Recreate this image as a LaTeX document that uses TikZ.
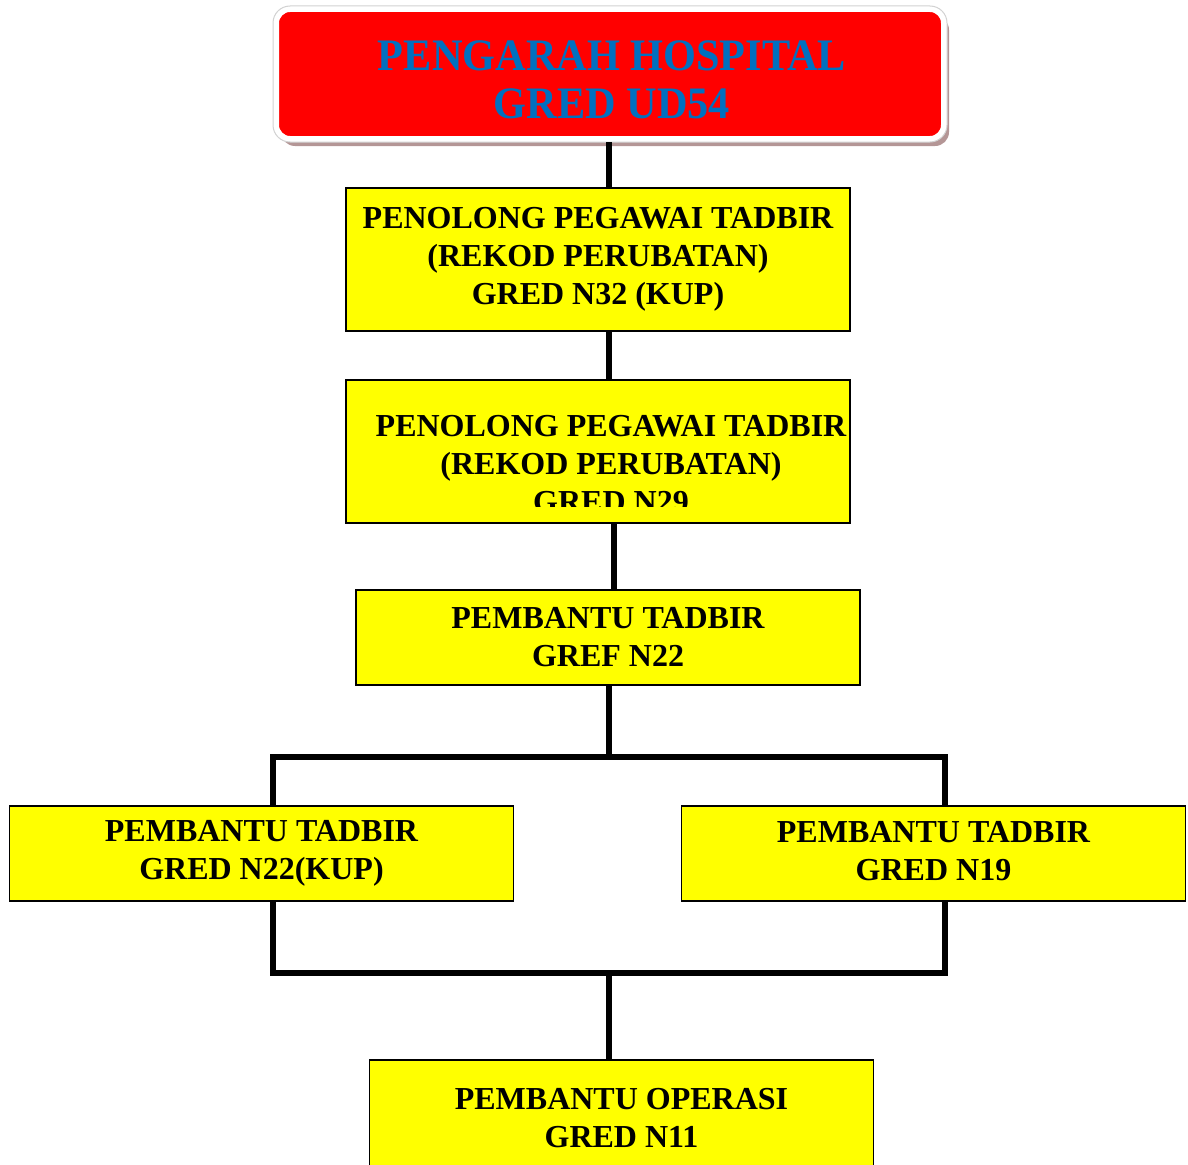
\documentclass[tikz,border=0pt]{standalone}
\usepackage{fontspec}
\setmainfont{Liberation Serif}
\newfontfamily\headfont[FakeStretch=0.94]{Liberation Serif}
\usetikzlibrary{shadows, calc}
\definecolor{orgRed}{RGB}{255, 0, 0}
\definecolor{orgBlue}{RGB}{0, 112, 192}
\definecolor{orgYellow}{RGB}{255, 255, 0}
\definecolor{orgShadow}{RGB}{180, 150, 150}
\tikzset{
  postbox/.style={fill=orgYellow, draw=black, line width=1.5pt, inner sep=0pt, minimum width=504pt, align=center, font=\bfseries\fontsize{32}{38}\selectfont},
  posttext/.style={align=center, inner sep=0pt, font=\bfseries\fontsize{32}{38}\selectfont},
  link/.style={line width=6pt, black}
}

\begin{document}
\begin{tikzpicture}[x=1pt, y=-1pt]
      \useasboundingbox (0,0) rectangle (1188,1164);
      \coordinate (spine) at (609,0);
      \coordinate (spineB) at (614,0);
      \coordinate (splitL) at (273,757);
      \coordinate (joinR) at (945,973);

      \node[fill=orgRed, draw=white, line width=6pt, rounded corners=14pt, minimum width=668pt, minimum height=130pt, drop shadow={shadow xshift=5pt, shadow yshift=-7pt, fill=orgShadow, opacity=1}] (head) at (610,74) {};
      \draw[gray!35, line width=1pt, rounded corners=17pt] (head.north west) rectangle (head.south east);
      \node[text=orgBlue, align=center, inner sep=0pt, font=\headfont\bfseries\fontsize{45}{48}\selectfont] (headtext) at (612,80) {PENGARAH HOSPITAL\\GRED UD54};

      \node[postbox, minimum height=143pt] (tadbirA) at (598,259.5) {PENOLONG PEGAWAI TADBIR\\(REKOD PERUBATAN)\\GRED N32 (KUP)};
      \node[postbox, minimum height=143pt] (tadbirB) at (598,451.5) {};
      \begin{scope}
        \clip (tadbirB.north west) rectangle ($(tadbirB.south east)+(0,-17)$);
        \node[posttext] (tadbirBtext) at (611,464) {PENOLONG PEGAWAI TADBIR\\(REKOD PERUBATAN)\\GRED N29};
      \end{scope}
      \node[postbox, minimum height=95pt] (tadbirC) at (608,637.5) {PEMBANTU TADBIR\\GREF N22};

      \draw[link] (splitL) rectangle (joinR);

      \node[postbox, minimum height=95pt] (tadbirL) at (261.5,853.5) {PEMBANTU TADBIR\\GRED N22(KUP)\vphantom{Q}};
      \node[postbox, minimum height=95pt] (tadbirR) at (933.5,853.5) {PEMBANTU TADBIR\\GRED N19\vphantom{Q}};
      \node[postbox, minimum height=116pt] (operasi) at (621.5,1118) {PEMBANTU OPERASI\\GRED N11};

      \draw[link] (head.south -| spine) -- (tadbirA.north -| spine);
      \draw[link] (tadbirA.south -| spine) -- (tadbirB.north -| spine);
      \draw[link] (tadbirB.south -| spineB) -- (tadbirC.north -| spineB);
      \draw[link] (tadbirC.south -| spine) -- (splitL -| spine);
      \draw[link] (joinR -| spine) -- (operasi.north -| spine);
    \end{tikzpicture}
\end{document}
